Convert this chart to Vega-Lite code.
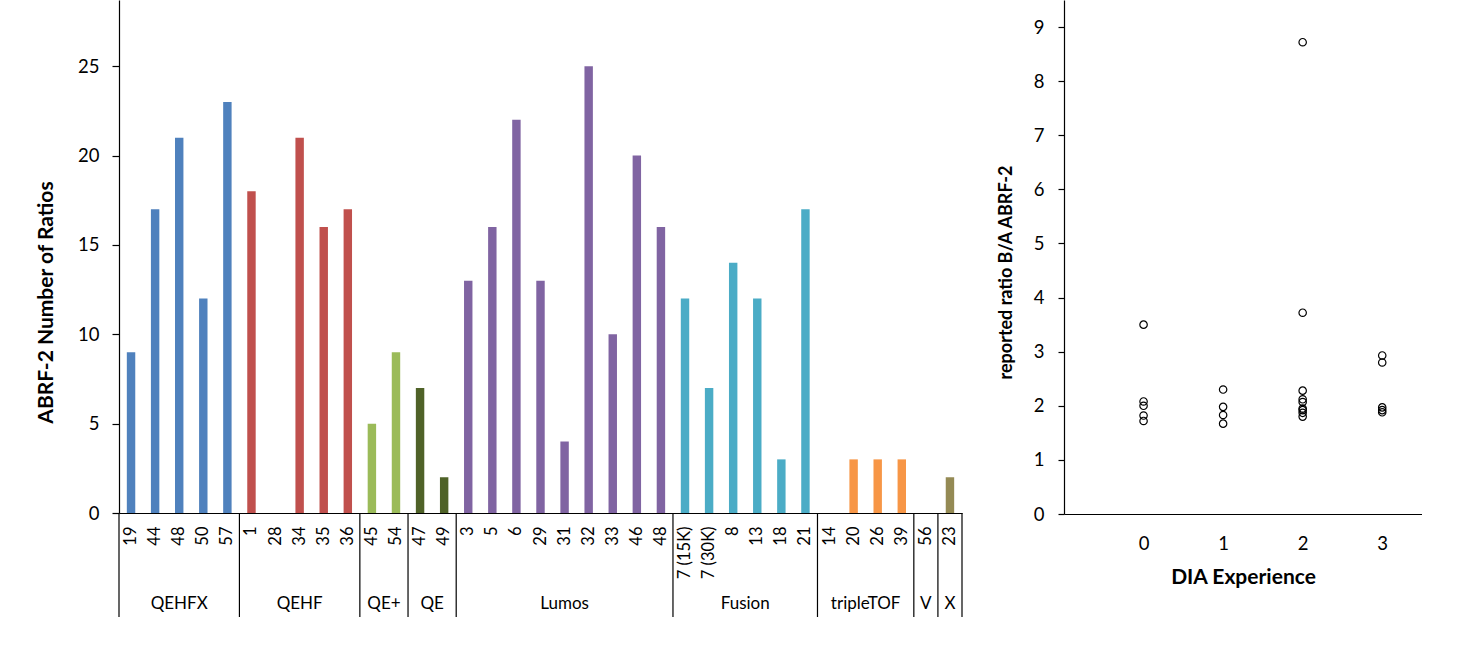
{
  "$schema": "https://vega.github.io/schema/vega-lite/v6.json",
  "padding": {"left": 35, "top": 0, "right": 0, "bottom": 0},
  "background": "white",
  "bounds": "flush",
  "spacing": 102,
  "config": {
    "font": "Lato",
    "view": {"stroke": null},
    "axis": {
      "grid": false,
      "domainColor": "black",
      "tickColor": "black",
      "labelColor": "black",
      "titleColor": "black",
      "labelFont": "Lato",
      "titleFont": "Lato",
      "domainWidth": 1.2,
      "tickWidth": 1.2
    }
  },
  "datasets": {
    "bars": [
      {"group": "QEHFX", "site": "19", "key": "QEHFX|19", "n": 9},
      {"group": "QEHFX", "site": "44", "key": "QEHFX|44", "n": 17},
      {"group": "QEHFX", "site": "48", "key": "QEHFX|48", "n": 21},
      {"group": "QEHFX", "site": "50", "key": "QEHFX|50", "n": 12},
      {"group": "QEHFX", "site": "57", "key": "QEHFX|57", "n": 23},
      {"group": "QEHF", "site": "1", "key": "QEHF|1", "n": 18},
      {"group": "QEHF", "site": "28", "key": "QEHF|28", "n": 0},
      {"group": "QEHF", "site": "34", "key": "QEHF|34", "n": 21},
      {"group": "QEHF", "site": "35", "key": "QEHF|35", "n": 16},
      {"group": "QEHF", "site": "36", "key": "QEHF|36", "n": 17},
      {"group": "QE+", "site": "45", "key": "QE+|45", "n": 5},
      {"group": "QE+", "site": "54", "key": "QE+|54", "n": 9},
      {"group": "QE", "site": "47", "key": "QE|47", "n": 7},
      {"group": "QE", "site": "49", "key": "QE|49", "n": 2},
      {"group": "Lumos", "site": "3", "key": "Lumos|3", "n": 13},
      {"group": "Lumos", "site": "5", "key": "Lumos|5", "n": 16},
      {"group": "Lumos", "site": "6", "key": "Lumos|6", "n": 22},
      {"group": "Lumos", "site": "29", "key": "Lumos|29", "n": 13},
      {"group": "Lumos", "site": "31", "key": "Lumos|31", "n": 4},
      {"group": "Lumos", "site": "32", "key": "Lumos|32", "n": 25},
      {"group": "Lumos", "site": "33", "key": "Lumos|33", "n": 10},
      {"group": "Lumos", "site": "46", "key": "Lumos|46", "n": 20},
      {"group": "Lumos", "site": "48", "key": "Lumos|48", "n": 16},
      {"group": "Fusion", "site": "7 (15K)", "key": "Fusion|7 (15K)", "n": 12},
      {"group": "Fusion", "site": "7 (30K)", "key": "Fusion|7 (30K)", "n": 7},
      {"group": "Fusion", "site": "8", "key": "Fusion|8", "n": 14},
      {"group": "Fusion", "site": "13", "key": "Fusion|13", "n": 12},
      {"group": "Fusion", "site": "18", "key": "Fusion|18", "n": 3},
      {"group": "Fusion", "site": "21", "key": "Fusion|21", "n": 17},
      {"group": "tripleTOF", "site": "14", "key": "tripleTOF|14", "n": 0},
      {"group": "tripleTOF", "site": "20", "key": "tripleTOF|20", "n": 3},
      {"group": "tripleTOF", "site": "26", "key": "tripleTOF|26", "n": 3},
      {"group": "tripleTOF", "site": "39", "key": "tripleTOF|39", "n": 3},
      {"group": "V", "site": "56", "key": "V|56", "n": 0},
      {"group": "X", "site": "23", "key": "X|23", "n": 2}
    ],
    "groupStarts": [
      {"key": "QEHFX|19"}, {"key": "QEHF|1"}, {"key": "QE+|45"}, {"key": "QE|47"},
      {"key": "Lumos|3"}, {"key": "Fusion|7 (15K)"}, {"key": "tripleTOF|14"},
      {"key": "V|56"}, {"key": "X|23"}
    ],
    "groupEnds": [{"key": "X|23"}],
    "labelsOdd": [
      {"group": "QEHFX", "mid": "QEHFX|48"},
      {"group": "QEHF", "mid": "QEHF|34"},
      {"group": "Lumos", "mid": "Lumos|31"},
      {"group": "V", "mid": "V|56"},
      {"group": "X", "mid": "X|23"}
    ],
    "labelsEven": [
      {"group": "QE+", "mid": "QE+|54"},
      {"group": "QE", "mid": "QE|49"},
      {"group": "Fusion", "mid": "Fusion|13"},
      {"group": "tripleTOF", "mid": "tripleTOF|26"}
    ],
    "pts": [
      {"dia": 0, "ratio": 3.5},
      {"dia": 0, "ratio": 2.08},
      {"dia": 0, "ratio": 2.0},
      {"dia": 0, "ratio": 1.82},
      {"dia": 0, "ratio": 1.72},
      {"dia": 1, "ratio": 2.3},
      {"dia": 1, "ratio": 1.98},
      {"dia": 1, "ratio": 1.83},
      {"dia": 1, "ratio": 1.67},
      {"dia": 2, "ratio": 8.72},
      {"dia": 2, "ratio": 3.72},
      {"dia": 2, "ratio": 2.28},
      {"dia": 2, "ratio": 2.12},
      {"dia": 2, "ratio": 2.07},
      {"dia": 2, "ratio": 1.95},
      {"dia": 2, "ratio": 1.92},
      {"dia": 2, "ratio": 1.87},
      {"dia": 2, "ratio": 1.8},
      {"dia": 3, "ratio": 2.93},
      {"dia": 3, "ratio": 2.8},
      {"dia": 3, "ratio": 1.97},
      {"dia": 3, "ratio": 1.92},
      {"dia": 3, "ratio": 1.88}
    ]
  },
  "hconcat": [
    {
      "width": 843,
      "height": 513,
      "encoding": {
        "x": {
          "field": "key",
          "type": "nominal",
          "scale": {
            "domain": ["QEHFX|19", "QEHFX|44", "QEHFX|48", "QEHFX|50", "QEHFX|57", "QEHF|1", "QEHF|28", "QEHF|34", "QEHF|35", "QEHF|36", "QE+|45", "QE+|54", "QE|47", "QE|49", "Lumos|3", "Lumos|5", "Lumos|6", "Lumos|29", "Lumos|31", "Lumos|32", "Lumos|33", "Lumos|46", "Lumos|48", "Fusion|7 (15K)", "Fusion|7 (30K)", "Fusion|8", "Fusion|13", "Fusion|18", "Fusion|21", "tripleTOF|14", "tripleTOF|20", "tripleTOF|26", "tripleTOF|39", "V|56", "X|23"],
            "paddingInner": 0,
            "paddingOuter": 0
          },
          "axis": {
            "title": null,
            "labelAngle": -90,
            "labelAlign": "right",
            "labelBaseline": "middle",
            "labelExpr": "split(datum.value, '|')[1]",
            "ticks": false,
            "labelPadding": 13,
            "labelFontSize": 16.5
          }
        }
      },
      "layer": [
        {
          "data": {"name": "bars"},
          "mark": {"type": "bar", "width": {"band": 0.35}},
          "encoding": {
            "y": {
              "field": "n",
              "type": "quantitative",
              "scale": {"domain": [0, 28.7], "nice": false},
              "axis": {
                "title": "ABRF-2 Number of Ratios",
                "values": [0, 5, 10, 15, 20, 25],
                "tickSize": 7,
                "labelPadding": 13,
                "labelFontSize": 18.5,
                "titleFontSize": 21,
                "titleFontWeight": "bold",
                "titlePadding": 21,
                "titleY": 302
              }
            },
            "color": {
              "field": "group",
              "type": "nominal",
              "scale": {
                "domain": ["QEHFX", "QEHF", "QE+", "QE", "Lumos", "Fusion", "tripleTOF", "V", "X"],
                "range": ["#4F81BD", "#C0504D", "#9BBB59", "#4F6228", "#8064A2", "#4BACC6", "#F79646", "#7F7F7F", "#948A54"]
              },
              "legend": null
            }
          }
        },
        {
          "data": {"name": "groupStarts"},
          "mark": {"type": "rule", "color": "black", "strokeWidth": 1.2},
          "encoding": {
            "x": {"field": "key", "type": "nominal", "bandPosition": 0},
            "y": {"datum": -5.82, "type": "quantitative"},
            "y2": {"datum": 0}
          }
        },
        {
          "data": {"name": "groupEnds"},
          "mark": {"type": "rule", "color": "black", "strokeWidth": 1.2},
          "encoding": {
            "x": {"field": "key", "type": "nominal", "bandPosition": 1},
            "y": {"datum": -5.82, "type": "quantitative"},
            "y2": {"datum": 0}
          }
        },
        {
          "data": {"name": "labelsOdd"},
          "mark": {"type": "text", "fontSize": 17, "color": "black", "baseline": "middle", "align": "center"},
          "encoding": {
            "x": {"field": "mid", "type": "nominal", "bandPosition": 0.5},
            "y": {"datum": -5.1, "type": "quantitative"},
            "text": {"field": "group"}
          }
        },
        {
          "data": {"name": "labelsEven"},
          "mark": {"type": "text", "fontSize": 17, "color": "black", "baseline": "middle", "align": "center"},
          "encoding": {
            "x": {"field": "mid", "type": "nominal", "bandPosition": 0},
            "y": {"datum": -5.1, "type": "quantitative"},
            "text": {"field": "group"}
          }
        }
      ]
    },
    {
      "width": 358,
      "height": 514,
      "data": {"name": "pts"},
      "mark": {"type": "point", "shape": "circle", "filled": false, "color": "black", "size": 55, "strokeWidth": 1.2, "opacity": 1},
      "encoding": {
        "x": {
          "field": "dia",
          "type": "quantitative",
          "scale": {"domain": [-1, 3.5], "nice": false},
          "axis": {
            "title": "DIA Experience",
            "values": [0, 1, 2, 3],
            "ticks": false,
            "labelPadding": 20,
            "labelFontSize": 18.5,
            "titleFontSize": 21,
            "titleFontWeight": "bold",
            "titlePadding": 14
          }
        },
        "y": {
          "field": "ratio",
          "type": "quantitative",
          "scale": {"domain": [0, 9.5], "nice": false},
          "axis": {
            "title": "reported ratio B/A ABRF-2",
            "values": [0, 1, 2, 3, 4, 5, 6, 7, 8, 9],
            "tickSize": 6,
            "labelPadding": 14,
            "labelFontSize": 18.5,
            "titleFontSize": 18,
            "titleFontWeight": "bold",
            "titlePadding": 18,
            "titleY": 272
          }
        }
      }
    }
  ]
}
